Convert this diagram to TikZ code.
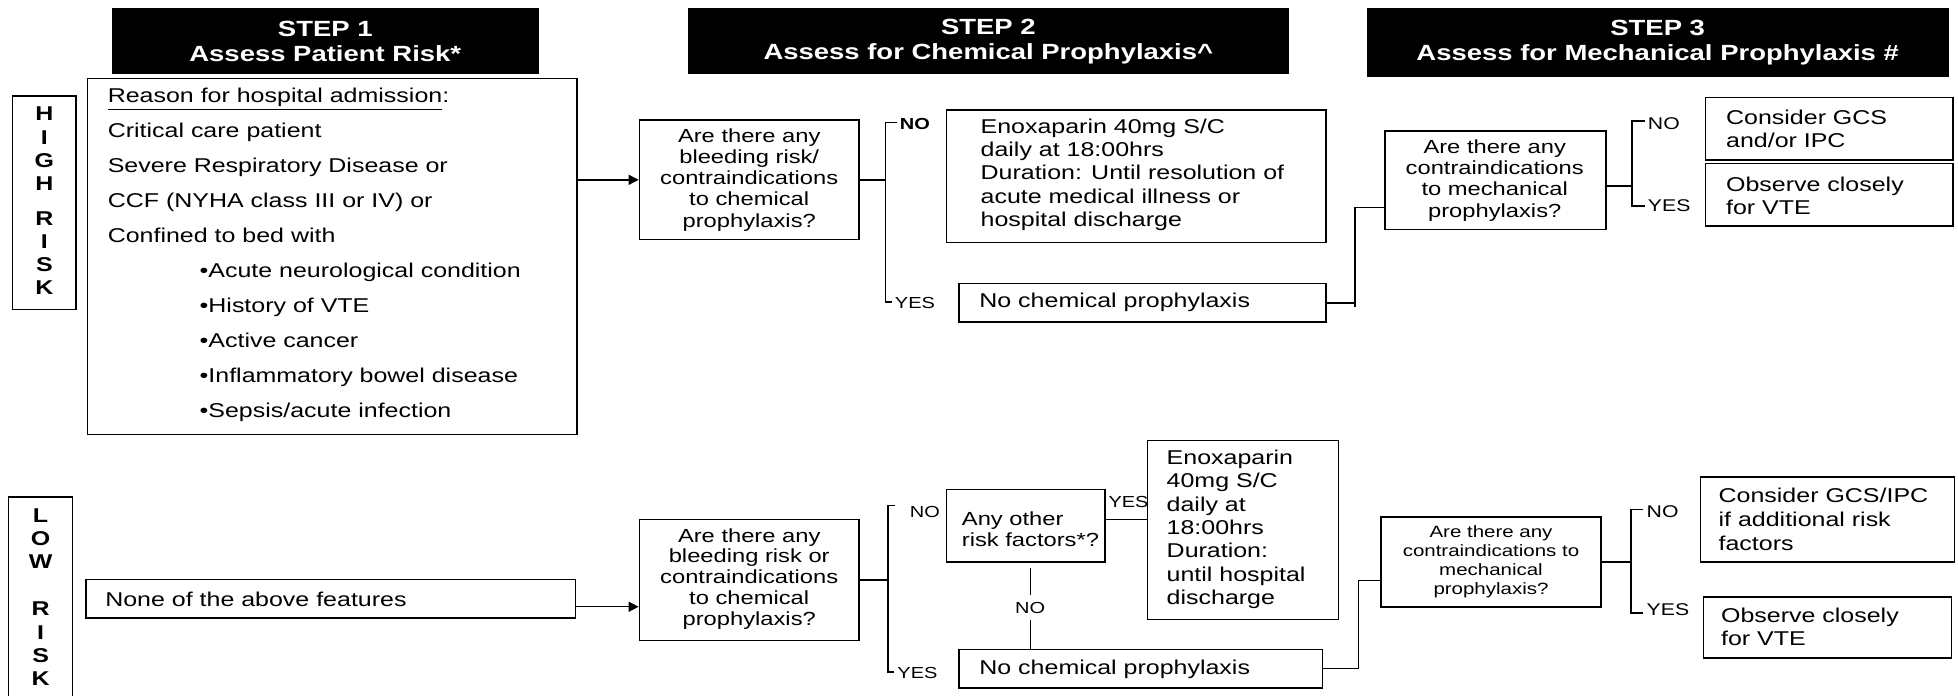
\documentclass[tikz,border=0pt]{standalone}
\usepackage{fontspec}
\setmainfont[FakeStretch=1.25]{Liberation Sans}
\usetikzlibrary{arrows.meta,fit,calc}
\newcommand\fsz[2]{\fontsize{#1}{#2}\selectfont}
\begin{document}
\begin{tikzpicture}[x=0.625pt,y=-0.625pt,
  bx/.style={draw=black,line width=0.7pt,inner sep=0pt},
  hdr/.style={fill=black,draw=black,inner sep=0pt},
  hdrtxt/.style={text=white,font=\bfseries\fsz{11}{12.6},align=center,inner sep=0pt},
  txt/.style={anchor=west,align=left,inner sep=0pt},
  ctxt/.style={align=center,inner sep=0pt},
  ln/.style={line width=0.7pt},
  arr/.style={line width=0.7pt,-{Triangle[length=5pt,width=5pt]}},
  lbl/.style={anchor=west,inner sep=1.5pt,font=\fsz{8}{9}},
  side/.style={align=center,inner sep=0pt,font=\bfseries\fsz{10}{11.6}}]

\useasboundingbox (0,0) rectangle (1568,557);
\clip (0,0) rectangle (1568,557);
\fill[white] (0,0) rectangle (1568,557);

% ---------- headers ----------
\node[hdr, fit={(90,7) (431,59)}] (h1) {};
\node[hdrtxt] (h1t) at (h1.center) {STEP 1\\Assess Patient Risk*};
\node[hdr, fit={(551,7) (1032,59)}] (h2) {};
\node[hdrtxt] (h2t) at (h2.center) {STEP 2\\Assess for Chemical Prophylaxis\textasciicircum};
\node[hdr, fit={(1095,7) (1560,61)}] (h3) {};
\node[hdrtxt] (h3t) at (h3.center) {STEP 3\\Assess for Mechanical Prophylaxis \#};

% ---------- high risk row ----------
\node[bx, fit={(10,77) (61,248)}] (hr) {};
\node[side] (hrt) at (35.5,161) {H\\I\\G\\H\\[5.9pt]R\\I\\S\\K};

\node[bx, fit={(70,63) (462,348)}] (main) {};
\node[txt, font=\fsz{10}{17.56}] (maint) at (86,204) {\underline{Reason for hospital admission}:\\
Critical care patient\\
Severe Respiratory Disease or\\
CCF (NYHA class III or IV) or\\
Confined to bed with\\
\hspace*{46pt}•Acute neurological condition\\
\hspace*{46pt}•History of VTE\\
\hspace*{46pt}•Active cancer\\
\hspace*{46pt}•Inflammatory bowel disease\\
\hspace*{46pt}•Sepsis/acute infection};

\node[bx, fit={(512,96) (688,192)}] (q1h) {};
\node[ctxt, font=\fsz{9.5}{10.6}] (q1ht) at (600,144) {Are there any\\bleeding risk/\\contraindications\\to chemical\\prophylaxis?};
\draw[arr] (main.east |- q1h.west) -- (q1h.west);

\node[bx, fit={(758,88) (1062,194)}] (en1) {};
\node[txt, font=\fsz{10}{11.6}] (en1t) at (785,140) {Enoxaparin 40mg S/C\\daily at 18:00hrs\\Duration: Until resolution of\\acute medical illness or\\hospital discharge};

\node[bx, fit={(768,227) (1062,258)}] (nc1) {};
\node[txt, font=\fsz{10}{11.6}] (nc1t) at (784,242.5) {No chemical prophylaxis};

\coordinate (b1t) at (709,98);
\coordinate (b1b) at (709,242);
\node[lbl, font=\bfseries\fsz{8}{9}] (b1no) at (718,99) {NO};
\node[lbl] (b1yes) at (714,243) {YES};
\draw[ln] (q1h.east) -- (q1h.east -| b1t);
\draw[ln] (b1t -| b1no.west) -- (b1t) -- (b1b) -- (b1b -| b1yes.west);

\coordinate (j1t) at (1085,166);
\coordinate (j1b) at (1085,246);
\node[bx, fit={(1109,105) (1286,184)}] (q2h) {};
\node[ctxt, font=\fsz{9.5}{10.6}] (q2ht) at (1197,144.5) {Are there any\\contraindications\\to mechanical\\prophylaxis?};
\draw[ln] (nc1.east) -- (nc1.east -| j1t);
\draw[ln] (j1b) -- (j1t) -- (j1t -| q2h.west);

\coordinate (q2hy) at ([yshift=-2.8pt]q2h.east);
\coordinate (b2t) at (1307,97);
\coordinate (b2b) at (1307,165);
\node[lbl, font=\fsz{8.5}{9}] (b2no) at (1317,99) {NO};
\node[lbl, font=\fsz{8.5}{9}] (b2yes) at (1317,165) {YES};
\draw[ln] (q2hy) -- (q2hy -| b2t);
\draw[ln] (b2t -| b2no.west) -- (b2t) -- (b2b) -- (b2b -| b2yes.west);

\node[bx, fit={(1366,78) (1564,128)}] (cg1) {};
\node[txt, font=\fsz{10}{11.6}] (cg1t) at (1382,103) {Consider GCS\\and/or IPC};
\node[bx, fit={(1366,131) (1564,181)}] (ob1) {};
\node[txt, font=\fsz{10}{11.6}] (ob1t) at (1382,157) {Observe closely\\for VTE};

% ---------- low risk row ----------
\node[bx, fit={(7,398) (58,570)}] (lr) {};
\node[side] (lrt) at (32.5,478) {L\\O\\W\\[12.2pt]R\\I\\S\\K};

\node[bx, fit={(69,464) (461,495)}] (none) {};
\node[txt, font=\fsz{10}{11.6}] (nonet) at (84,480) {None of the above features};

\node[bx, fit={(512,416) (688,513)}] (q1l) {};
\node[ctxt, font=\fsz{9.5}{10.4}] (q1lt) at (600,463.5) {Are there any\\bleeding risk or\\contraindications\\to chemical\\prophylaxis?};
\coordinate (a2s) at ([yshift=-4pt]none.east);
\draw[arr] (a2s) -- (a2s -| q1l.west);

\coordinate (b3t) at (711,405);
\coordinate (b3b) at (711,538);
\node[lbl] (b3no) at (726,410) {NO};
\node[lbl] (b3yes) at (716,539) {YES};
\draw[ln] (q1l.east) -- (q1l.east -| b3t);
\draw[ln] ($(b3t)+(6,0)$) -- (b3t) -- (b3b) -- (b3b -| b3yes.west);

\node[bx, fit={(758,392) (885,450)}] (any) {};
\node[txt, font=\fsz{9.5}{10.4}] (anyt) at (770,424) {Any other\\risk factors*?};

\node[bx, fit={(919,353) (1072,496)}] (en2) {};
\node[txt, font=\fsz{10}{11.7}] (en2t) at (934,424) {Enoxaparin\\40mg S/C\\daily at\\18:00hrs\\Duration:\\until hospital\\discharge};

\coordinate (ay) at ([yshift=3pt]any.east);
\draw[ln] (ay) -- (ay -| en2.west);
\node[lbl] (ayes) at (885,402) {YES};

\node[bx, fit={(768,520) (1059,551)}] (nc2) {};
\node[txt, font=\fsz{10}{11.6}] (nc2t) at (784,536) {No chemical prophylaxis};

\node[inner sep=3pt, font=\fsz{8}{9}] (lno2) at (825,486.5) {NO};
\coordinate (anyb) at ([yshift=-2.5pt]any.south);
\draw[ln] (lno2.north) -- (lno2.north |- anyb);
\draw[ln] (lno2.south) -- (lno2.south |- nc2.north);

\node[bx, fit={(1106,414) (1282,486)}] (q2l) {};
\node[ctxt, font=\fsz{8.2}{9.4}] (q2lt) at (1194,450) {Are there any\\contraindications to\\mechanical\\prophylaxis?};
\coordinate (j2) at (1088,465);
\draw[ln] (nc2.east) -| (j2) -- (j2 -| q2l.west);

\coordinate (b4t) at (1306,408);
\coordinate (b4b) at (1306,491);
\node[lbl, font=\fsz{8.5}{9}] (b4no) at (1316,410) {NO};
\node[lbl, font=\fsz{8.5}{9}] (b4yes) at (1316,488) {YES};
\draw[ln] (q2l.east) -- (q2l.east -| b4t);
\draw[ln] (b4t -| b4no.west) -- (b4t) -- (b4b) -- (b4b -| b4yes.west);

\node[bx, fit={(1362,382) (1565,450)}] (cg2) {};
\node[txt, font=\fsz{10}{11.9}] (cg2t) at (1376,416) {Consider GCS/IPC\\if additional risk\\factors};
\node[bx, fit={(1364,478) (1563,527)}] (ob2) {};
\node[txt, font=\fsz{10}{11.6}] (ob2t) at (1378,502) {Observe closely\\for VTE};
\end{tikzpicture}
\end{document}
